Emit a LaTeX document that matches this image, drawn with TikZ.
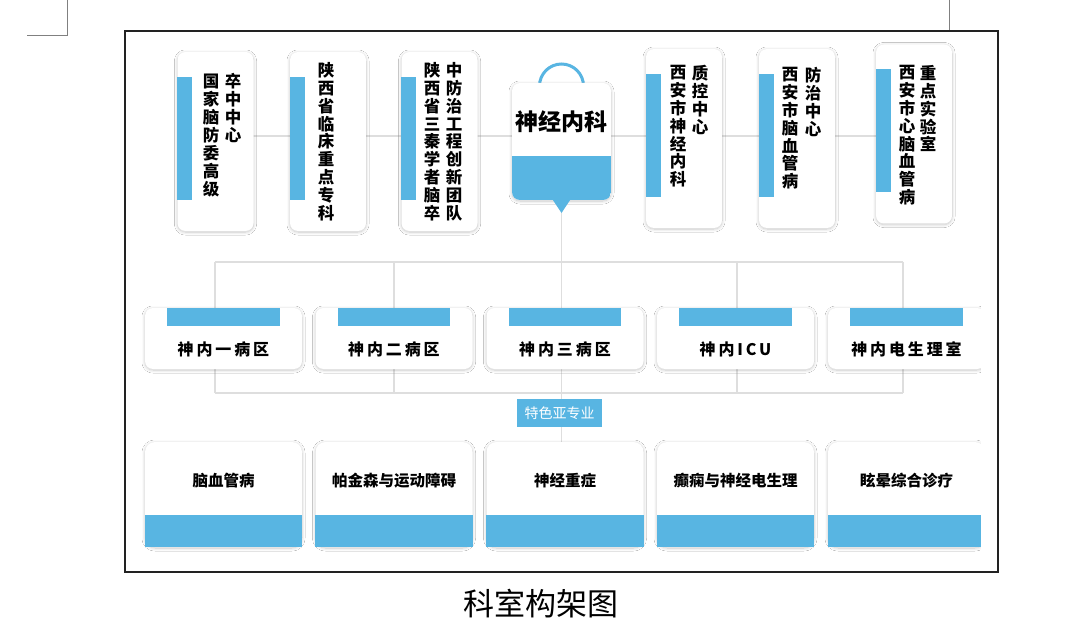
\documentclass[tikz,border=0pt]{standalone}
\usepackage{fontspec}
\newfontfamily\cjk{Noto Sans CJK SC}
\usetikzlibrary{shadows.blur}
\definecolor{bl}{RGB}{88,181,226}
\definecolor{ln}{RGB}{222,222,222}
\definecolor{frame}{RGB}{34,34,34}
\pgfdeclarelayer{lines}
\pgfsetlayers{lines,main}
\begin{document}
\begin{tikzpicture}[x=1pt,y=-1pt,
 conn/.style={draw=ln, line width=1.1pt},
 sh/.style={blur shadow={shadow blur steps=20, shadow xshift=0pt, shadow yshift=-1pt, shadow blur radius=3pt, shadow opacity=22}},
 topcard/.style={fill=white, rounded corners=8pt, sh, minimum width=76pt, minimum height=179pt, inner sep=0pt},
 vtext/.style={font=\cjk\bfseries\fontsize{16.5}{17.9}\selectfont, align=center, inner sep=0pt, anchor=north},
 midcard/.style={fill=white, rounded corners=8pt, sh, minimum width=157pt, minimum height=61pt, inner sep=0pt},
 midtext/.style={font=\cjk\bfseries\fontsize{16}{18}\selectfont\addfontfeature{LetterSpace=18}, inner sep=0pt},
 botcard/.style={fill=white, rounded corners=10pt, sh, minimum width=157pt, minimum height=105pt, inner sep=0pt},
 bottext/.style={font=\cjk\bfseries\fontsize{15.5}{18}\selectfont, inner sep=0pt},
 bar/.style={fill=bl, sharp corners}]
\useasboundingbox (0,0) rectangle (1079,639);

% top row cards
\node[topcard] (t1) at (215.5,141.5) {};
\node[topcard] (t2) at (328,141.5) {};
\node[topcard] (t3) at (439.5,141.5) {};
\node[topcard] (t5) at (684,138.5) {};
\node[topcard] (t6) at (797,138.5) {};
\node[topcard] (t7) at (914,134) {};
\foreach \n in {t1,t2,t3,t5,t6,t7}
  \fill[bar] ([yshift=-25pt]\n.north west) rectangle ([xshift=15pt,yshift=-148pt]\n.north west);

\node[vtext] (t1a) at (211,74) {国\\家\\脑\\防\\委\\高\\级};
\node[vtext] (t1b) at (233,73) {卒\\中\\中\\心};
\node[vtext] (t2a) at (326,62) {陕\\西\\省\\临\\床\\重\\点\\专\\科};
\node[vtext] (t3a) at (432,62) {陕\\西\\省\\三\\秦\\学\\者\\脑\\卒};
\node[vtext] (t3b) at (454,62) {中\\防\\治\\工\\程\\创\\新\\团\\队};
\node[vtext] (t5a) at (678,65) {西\\安\\市\\神\\经\\内\\科};
\node[vtext] (t5b) at (700,65) {质\\控\\中\\心};
\node[vtext] (t6a) at (790,67) {西\\安\\市\\脑\\血\\管\\病};
\node[vtext] (t6b) at (813,67) {防\\治\\中\\心};
\node[vtext] (t7a) at (907,65) {西\\安\\市\\心\\脑\\血\\管\\病};
\node[vtext] (t7b) at (928,65) {重\\点\\实\\验\\室};

% central node
\draw[bl, line width=3pt] (539.5,86) arc[start angle=180, end angle=360, radius=22];
\node[fill=white, rounded corners=8pt, sh, minimum width=99pt, minimum height=117pt, inner sep=0pt,
  path picture={\fill[bl, sharp corners] ([yshift=44pt]path picture bounding box.south west) rectangle (path picture bounding box.south east);}] (c) at (561.5,141.5) {};
\coordinate (tip) at (561.5,213);
\fill[bl] (c.south -| 553,0) -- (c.south -| 570,0) -- (tip) -- cycle;
\node[font=\cjk\bfseries\fontsize{23}{26}\selectfont, inner sep=0pt] (ct) at (561.5,122) {神经内科};

% middle row
\node[midcard] (m1) at (223.5,338.5) {};
\node[midcard] (m2) at (394,338.5) {};
\node[midcard] (m3) at (565,338.5) {};
\node[midcard] (m4) at (735.5,338.5) {};
\node[midcard] (m5) at (906.5,338.5) {};
\foreach \n in {m1,m2,m3,m4,m5}
  \fill[bar] ([xshift=22.5pt]\n.north west) rectangle ([xshift=-22.5pt,yshift=-18pt]\n.north east);
\node[midtext] (m1t) at (223.5,349) {神内一病区};
\node[midtext] (m2t) at (394,349) {神内二病区};
\node[midtext] (m3t) at (565,349) {神内三病区};
\node[midtext] (m4t) at (735.5,349) {神内ICU};
\node[midtext] (m5t) at (906.5,349) {神内电生理室};

% badge
\node[fill=bl, text=white, font=\cjk\fontsize{14}{16}\selectfont, minimum width=85pt, minimum height=28pt, inner sep=0pt] (badge) at (559.5,413) {特色亚专业};

% bottom row
\node[botcard] (b1) at (223.5,494.5) {};
\node[botcard] (b2) at (394,494.5) {};
\node[botcard] (b3) at (565,494.5) {};
\node[botcard] (b4) at (735.5,494.5) {};
\node[botcard] (b5) at (906.5,494.5) {};
\foreach \n in {b1,b2,b3,b4,b5}
  \fill[bar] (\n.south west) rectangle ([yshift=32pt]\n.south east);
\node[bottext] (b1t) at (223.5,481) {脑血管病};
\node[bottext] (b2t) at (394,481) {帕金森与运动障碍};
\node[bottext] (b3t) at (565,481) {神经重症};
\node[bottext] (b4t) at (735.5,481) {癫痫与神经电生理};
\node[bottext] (b5t) at (906.5,481) {眩晕综合诊疗};

% clip right side of last cards
\fill[white] (981,290) rectangle (996.5,565);

% frame and marks
\draw[frame, line width=1.5pt] (125,31) rectangle (998,572);
\draw[gray, line width=1pt] (27,36) -- (67,36) -- (67,0);
\draw[gray, line width=1pt] (949,0) -- (949,30);

% caption
\node[font=\cjk\fontsize{31}{34}\selectfont, inner sep=0pt] (cap) at (541,604) {科室构架图};

% connectors
\begin{pgfonlayer}{lines}
\fill[white] (0,0) rectangle (1079,639);
\coordinate (ytop) at (0,136);
\draw[conn] (t1 |- ytop) -- (t7 |- ytop);
\coordinate (v1) at (215,262);
\coordinate (v2) at (394,262);
\coordinate (v4) at (737,262);
\coordinate (v5) at (903,262);
\coordinate (w1) at (215,393);
\coordinate (w2) at (394,393);
\coordinate (w4) at (737,393);
\coordinate (w5) at (903,393);
\draw[conn] (v1) -- (v5);
\draw[conn] (w1) -- (w5);
\draw[conn] (v1) -- (w1);
\draw[conn] (v2) -- (w2);
\draw[conn] (v4) -- (w4);
\draw[conn] (v5) -- (w5);
\draw[conn] (tip) -- (tip |- b3.north);
\end{pgfonlayer}
\end{tikzpicture}
\end{document}
